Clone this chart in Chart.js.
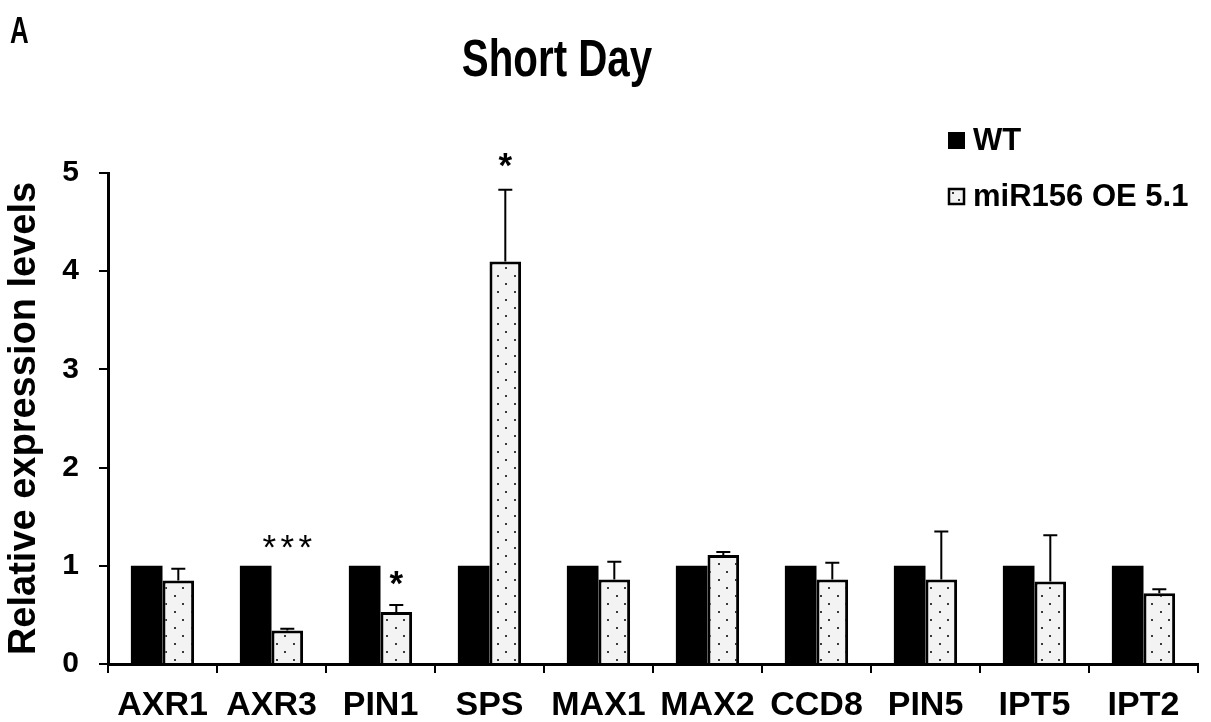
<!DOCTYPE html>
<html>
<head>
<meta charset="utf-8">
<script src="https://cdn.jsdelivr.net/npm/chart.js@4"></script>
<style>
  body { margin: 0; background: #fff; }
  #grafico { display: block; }
</style>
</head>
<body>
<canvas id="grafico" width="1211" height="722"></canvas>
<script>
// genes analisados (eixo x)
const genes = ['AXR1', 'AXR3', 'PIN1', 'SPS', 'MAX1', 'MAX2', 'CCD8', 'PIN5', 'IPT5', 'IPT2']

// expressao relativa do WT (referencia = 1)
const wt = [1, 1, 1, 1, 1, 1, 1, 1, 1, 1]

// expressao relativa da linhagem miR156 OE 5.1 e o erro padrao (so para cima)
const oe = [0.85, 0.34, 0.53, 4.10, 0.86, 1.11, 0.86, 0.86, 0.84, 0.72]
const oeErro = [0.12, 0.02, 0.07, 0.73, 0.18, 0.03, 0.17, 0.49, 0.47, 0.04]

// asteriscos de significancia em cima das barras OE
const estrelas = ['', '***', '*', '*', '', '', '', '', '', '']

const legendas = ['WT', 'miR156 OE 5.1']

const fonte = "'Liberation Sans', Arial, sans-serif"

// textura pontilhada das barras OE
function pontilhado () {
    let tile = document.createElement('canvas')
    tile.width = 17
    tile.height = 16
    let c = tile.getContext('2d')
    c.fillStyle = '#f3f3f3'
    c.fillRect(0, 0, 17, 16)
    c.fillStyle = '#3a3a3a'
    c.fillRect(4, 3, 2, 2)
    c.fillRect(12, 11, 2, 2)
    return c.createPattern(tile, 'repeat')
}
const padrao = pontilhado()

// titulo e letra do painel, fonte estreita
const cabecalho = {
    id: 'cabecalho',
    afterDraw (chart) {
        let ctx = chart.ctx
        ctx.save()
        ctx.fillStyle = '#000'
        ctx.textBaseline = 'alphabetic'
        ctx.textAlign = 'center'
        ctx.font = 'bold 51px ' + fonte
        ctx.translate(557, 76)
        ctx.scale(0.79, 1)
        ctx.fillText('Short Day', 0, 0)
        ctx.restore()

        ctx.save()
        ctx.fillStyle = '#000'
        ctx.textAlign = 'left'
        ctx.font = 'bold 36px ' + fonte
        ctx.translate(10, 43)
        ctx.scale(0.72, 1)
        ctx.fillText('A', 0, 0)
        ctx.restore()
    }
}

// legenda vertical no canto direito
const legendaLateral = {
    id: 'legendaLateral',
    afterDraw (chart) {
        let ctx = chart.ctx
        let linhas = [140, 196]
        ctx.save()
        chart.data.datasets.forEach((ds, i) => {
            let y = linhas[i]
            if (i === 0) {
                ctx.fillStyle = ds.backgroundColor
                ctx.fillRect(948, y - 8, 17, 17)
            } else {
                ctx.fillStyle = '#f3f3f3'
                ctx.fillRect(948, y - 8, 17, 17)
                ctx.fillStyle = '#333'
                ctx.fillRect(952, y - 4, 2, 2)
                ctx.fillRect(958, y + 3, 2, 2)
                ctx.strokeStyle = '#000'
                ctx.lineWidth = 2.5
                ctx.strokeRect(949, y - 7, 15, 15)
            }
            ctx.fillStyle = '#000'
            ctx.font = 'bold 31px ' + fonte
            ctx.textAlign = 'left'
            ctx.textBaseline = 'middle'
            ctx.fillText(ds.label, 973, y + 1)
        })
        ctx.restore()
    }
}

// barras de erro (so a parte de cima) e asteriscos
const barrasErro = {
    id: 'barrasErro',
    afterDatasetsDraw (chart, args, opts) {
        let ctx = chart.ctx
        let ys = chart.scales.y
        let meta = chart.getDatasetMeta(1)
        ctx.save()
        ctx.strokeStyle = '#000'
        ctx.lineWidth = 2
        meta.data.forEach((bar, i) => {
            let topo = ys.getPixelForValue(oe[i])
            let fim = ys.getPixelForValue(oe[i] + oeErro[i])
            ctx.beginPath()
            ctx.moveTo(bar.x, topo)
            ctx.lineTo(bar.x, fim)
            ctx.moveTo(bar.x - 7, fim)
            ctx.lineTo(bar.x + 7, fim)
            ctx.stroke()

            if (estrelas[i]) {
                let centro = fim - opts.folga[i]
                ctx.fillStyle = '#000'
                ctx.font = (estrelas[i].length === 1 ? 'bold ' : '') + '35px ' + fonte
                ctx.textAlign = 'center'
                ctx.textBaseline = 'alphabetic'
                let n = estrelas[i].length
                for (let k = 0; k < n; k++) {
                    let x = bar.x + (k - (n - 1) / 2) * 18
                    ctx.fillText('*', x, centro + 20)
                }
            }
        })
        ctx.restore()
    }
}

const config = {
    type: 'bar',
    data: {
        labels: genes,
        datasets: [
            {
                label: legendas[0],
                data: wt,
                backgroundColor: '#000',
                borderColor: '#000',
                borderWidth: 0
            },
            {
                label: legendas[1],
                data: oe,
                backgroundColor: padrao,
                borderColor: '#000',
                borderWidth: 3,
                borderSkipped: 'bottom'
            }
        ]
    },
    options: {
        responsive: false,
        devicePixelRatio: 1,
        animation: false,
        datasets: {
            bar: { categoryPercentage: 0.58, barPercentage: 1 }
        },
        layout: {
            padding: { top: 173, right: 13, left: 0, bottom: 0 }
        },
        plugins: {
            legend: { display: false },
            tooltip: { enabled: false },
            barrasErro: { folga: [0, 90, 30, 33, 0, 0, 0, 0, 0, 0] }
        },
        scales: {
            x: {
                offset: true,
                grid: {
                    offset: true,
                    drawOnChartArea: false,
                    drawTicks: true,
                    tickLength: 9,
                    lineWidth: 2,
                    color: '#000'
                },
                border: { display: true, color: '#000', width: 3 },
                ticks: {
                    color: '#000',
                    padding: 12,
                    maxRotation: 0,
                    autoSkip: false,
                    font: { family: fonte, size: 34, weight: 'bold' }
                },
                afterFit (scale) { scale.height = 58 }
            },
            y: {
                min: 0,
                max: 5,
                grid: {
                    drawOnChartArea: false,
                    drawTicks: true,
                    tickLength: 9,
                    lineWidth: 2,
                    color: '#000'
                },
                border: { display: true, color: '#000', width: 3 },
                ticks: {
                    stepSize: 1,
                    color: '#000',
                    padding: 20,
                    font: { family: fonte, size: 30, weight: 'bold' }
                },
                title: {
                    display: true,
                    text: 'Relative expression levels',
                    color: '#000',
                    padding: { top: 2, bottom: 0 },
                    font: { family: fonte, size: 38, weight: 'bold' }
                },
                afterFit (scale) { scale.width = 108 }
            }
        }
    },
    plugins: [barrasErro, cabecalho, legendaLateral]
}

const grafico = new Chart(document.getElementById('grafico'), config)
</script>
</body>
</html>
